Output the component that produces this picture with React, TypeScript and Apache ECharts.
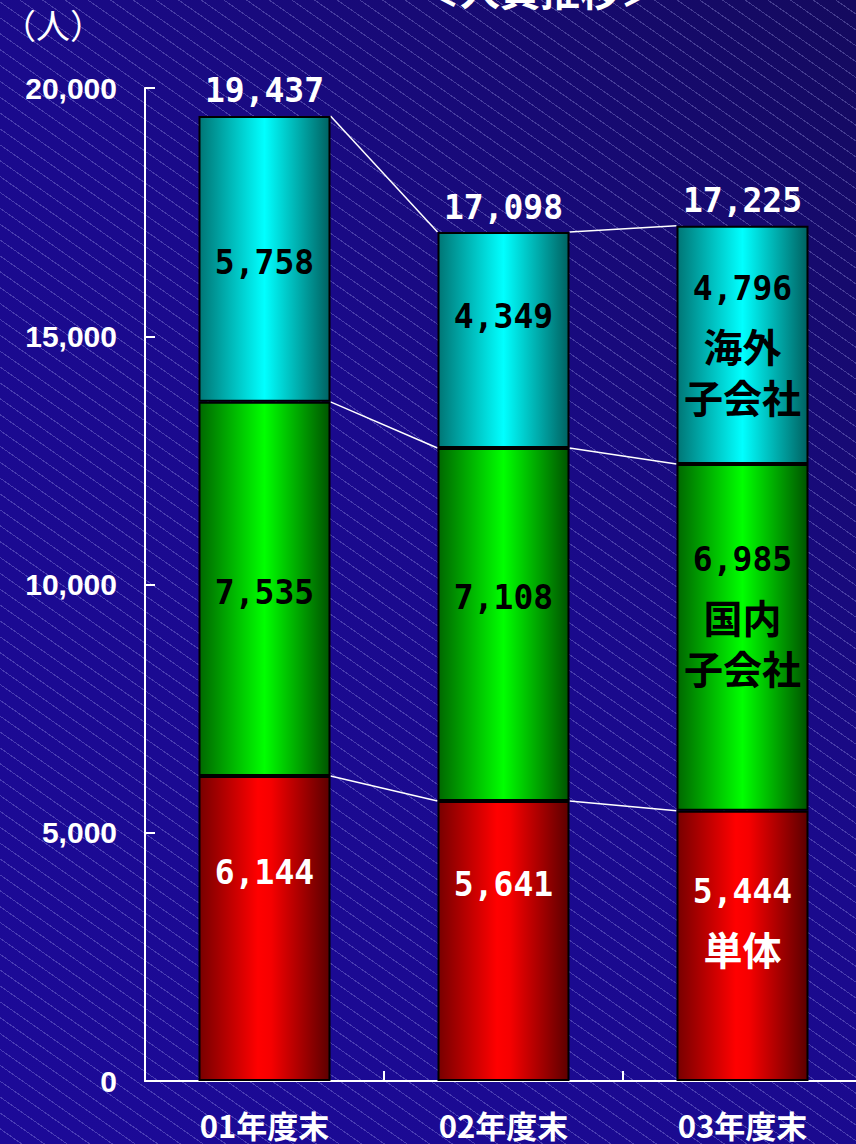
import React, { useEffect, useRef } from "react";
import * as echarts from "echarts";

const categories = ["01年度末", "02年度末", "03年度末"];
const parentValues = [6144, 5641, 5444]; // 単体
const domesticValues = [7535, 7108, 6985]; // 国内子会社
const overseasValues = [5758, 4349, 4796]; // 海外子会社
const totals = [19437, 17098, 17225];
const segmentNames = ["単体", "国内\n子会社", "海外\n子会社"];
const yMax = 20000;
const yInterval = 5000;

// label vertical nudges (px) per bar
const parentLabelOffsets = [-56, -56, -29];
const domesticLabelOffsets = [4, -27, -27];
const overseasLabelOffsets = [4, -24, -5];

const NUM_FONT = "'DejaVu Sans Mono', 'Liberation Mono', monospace";
const JP_FONT = "'Noto Sans CJK JP', 'Noto Sans', sans-serif";
const BAR_WIDTH = 132;

function grad(stops: [number, string][]) {
  return new echarts.graphic.LinearGradient(
    0, 0, 1, 0,
    stops.map(([offset, color]) => ({ offset, color }))
  );
}

const fmt = (v: number) => v.toLocaleString("en-US");

export default function App() {
  const ref = useRef<HTMLDivElement>(null);

  useEffect(() => {
    if (!ref.current) return;
    const chart = echarts.init(ref.current, undefined, { renderer: "svg" });

    const lastIdx = categories.length - 1;
    const makeData = (vals: number[], offsets: number[], segIdx: number) =>
      vals.map((v, i) => {
        const name = segmentNames[segIdx];
        const text =
          i === lastIdx
            ? `{n|${fmt(v)}}\n` + name.split("\n").map((s) => `{c|${s}}`).join("\n")
            : `{n|${fmt(v)}}`;
        return {
          value: v,
          label: { offset: [0, offsets[i]], formatter: text },
        };
      });

    const labelBase = (color: string) => ({
      show: true,
      position: "inside",
      color,
      rich: {
        n: { fontFamily: NUM_FONT, fontWeight: "bold", fontSize: 33, lineHeight: 62, color },
        c: { fontFamily: JP_FONT, fontWeight: "bold", fontSize: 39, lineHeight: 51, color },
      },
    });

    // connector lines between stack boundaries of adjacent bars
    const stacks = [parentValues, domesticValues, overseasValues];
    const cum = categories.map((_, i) => {
      let s = 0;
      return stacks.map((arr) => (s += arr[i]));
    });
    const connectorData: number[][] = [];
    for (let i = 0; i < categories.length - 1; i++) {
      for (let k = 0; k < stacks.length; k++) {
        connectorData.push([i, cum[i][k], cum[i + 1][k]]);
      }
    }

    chart.setOption({
      animation: false,
      backgroundColor: "transparent",
      grid: { left: 145, right: 1, top: 88, bottom: 63 },
      xAxis: {
        type: "category",
        data: categories,
        axisLine: { show: true, lineStyle: { color: "#ffffff", width: 2 } },
        axisTick: { show: true, inside: true, length: 10, lineStyle: { color: "#ffffff", width: 2 } },
        axisLabel: {
          color: "#ffffff",
          fontFamily: JP_FONT,
          fontWeight: "bold",
          fontSize: 31,
          margin: 28,
        },
      },
      yAxis: {
        type: "value",
        min: 0,
        max: yMax,
        interval: yInterval,
        axisLine: { show: true, lineStyle: { color: "#ffffff", width: 2 } },
        axisTick: { show: true, inside: true, length: 10, lineStyle: { color: "#ffffff", width: 2 } },
        splitLine: { show: false },
        axisLabel: {
          color: "#ffffff",
          fontFamily: "'Liberation Sans', Arial, sans-serif",
          fontWeight: "bold",
          fontSize: 30,
          margin: 28,
          formatter: (v: number) => fmt(v),
        },
      },
      graphic: [
        {
          type: "text",
          left: 2,
          top: 7,
          style: {
            text: "（人）",
            fill: "#ffffff",
            font: `normal 34px ${JP_FONT}`,
          },
        },
        {
          type: "text",
          x: 540,
          y: 9,
          style: {
            text: "＜人員推移＞",
            fill: "#ffffff",
            font: `bold 40px ${JP_FONT}`,
            textAlign: "center",
            textVerticalAlign: "bottom",
          },
        },
      ],
      series: [
        {
          type: "custom",
          z: 1,
          data: connectorData,
          renderItem: (params: any, api: any) => {
            const i = api.value(0);
            const p1 = api.coord([i, api.value(1)]);
            const p2 = api.coord([i + 1, api.value(2)]);
            const half = BAR_WIDTH / 2;
            return {
              type: "line",
              shape: { x1: p1[0] + half, y1: p1[1], x2: p2[0] - half, y2: p2[1] },
              style: { stroke: "#ffffff", lineWidth: 1.5 },
            };
          },
        },
        {
          name: "単体",
          type: "bar",
          stack: "total",
          barWidth: BAR_WIDTH,
          z: 2,
          itemStyle: {
            color: grad([[0, "#780000"], [0.45, "#ff0000"], [0.55, "#f60000"], [1, "#5c0000"]]),
            borderColor: "#000000",
            borderWidth: 2,
          },
          label: labelBase("#ffffff"),
          data: makeData(parentValues, parentLabelOffsets, 0),
        },
        {
          name: "国内子会社",
          type: "bar",
          stack: "total",
          barWidth: BAR_WIDTH,
          z: 2,
          itemStyle: {
            color: grad([[0, "#006800"], [0.5, "#00ff00"], [1, "#005400"]]),
            borderColor: "#000000",
            borderWidth: 2,
          },
          label: labelBase("#000000"),
          data: makeData(domesticValues, domesticLabelOffsets, 1),
        },
        {
          name: "海外子会社",
          type: "bar",
          stack: "total",
          barWidth: BAR_WIDTH,
          z: 2,
          itemStyle: {
            color: grad([[0, "#007676"], [0.5, "#00ffff"], [1, "#006262"]]),
            borderColor: "#000000",
            borderWidth: 2,
          },
          label: labelBase("#000000"),
          data: makeData(overseasValues, overseasLabelOffsets, 2),
        },
        {
          name: "合計",
          type: "scatter",
          z: 3,
          symbolSize: 1,
          itemStyle: { color: "rgba(0,0,0,0)", opacity: 1 },
          label: {
            show: true,
            position: "top",
            distance: 8,
            color: "#ffffff",
            opacity: 1,
            fontFamily: NUM_FONT,
            fontWeight: "bold",
            fontSize: 33,
            formatter: (p: any) => fmt(p.value),
          },
          data: totals,
        },
      ],
    });

    return () => chart.dispose();
  }, []);

  return (
    <div
      style={{
        position: "absolute",
        left: 0,
        top: 0,
        width: 856,
        height: 1144,
        overflow: "hidden",
        background:
          "repeating-linear-gradient(35deg, rgba(190,190,255,0) 0px, rgba(190,190,255,0) 12px, rgba(190,190,255,0.28) 12px, rgba(190,190,255,0.28) 13px), linear-gradient(225deg, #140a5e 0%, #1a0a8c 45%, #1c0a98 100%)",
      }}
    >
      <div ref={ref} style={{ position: "absolute", left: 0, top: 0, width: 863, height: 1144 }} />
    </div>
  );
}
